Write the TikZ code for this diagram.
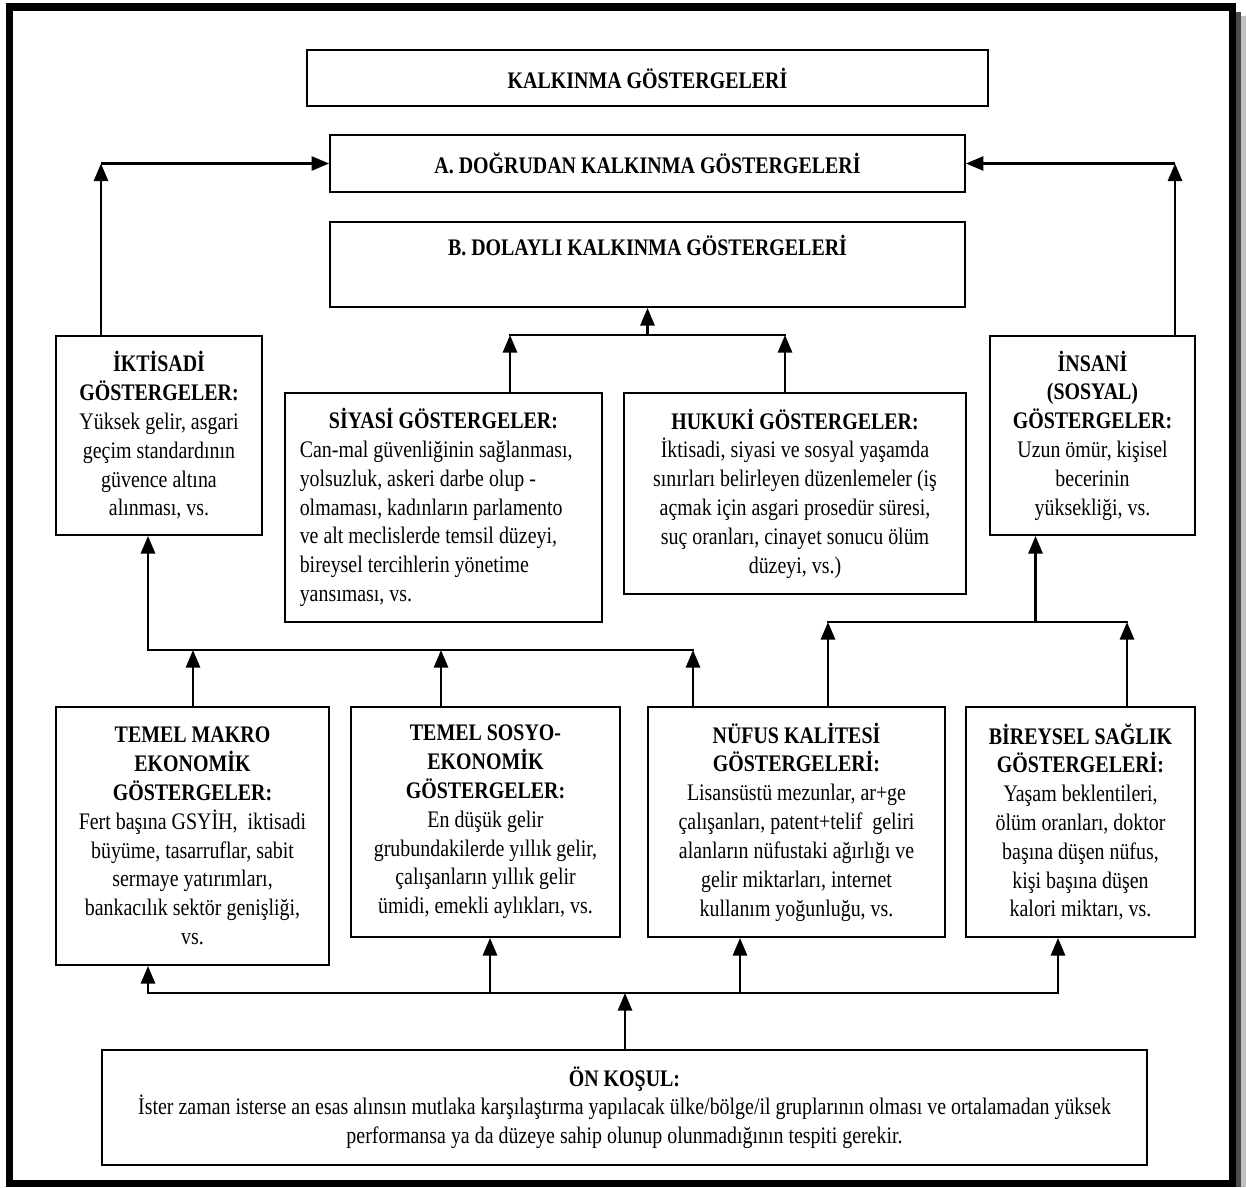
\documentclass[tikz,border=0pt]{standalone}
\usepackage{fontspec}
\setmainfont{Liberation Serif}[FakeStretch=0.84]
\usetikzlibrary{arrows.meta}

\begin{document}
\begin{tikzpicture}[x=0.02cm, y=-0.02cm,
        box/.style={draw, line width=1.1pt, align=center, inner sep=0pt,
            font=\fontsize{13.5}{16.4}\selectfont},
        arr/.style={line width=1.5pt, -{Triangle[length=10pt, width=8pt]}},
        wire/.style={line width=1.5pt, line cap=rect}]
                    \useasboundingbox (0,0) rectangle (1246,1187);

                    % frame with shadow
                    \fill[black!70] (1236,12) rectangle (1241,1187);
                    \fill[black!25] (1241,16) rectangle (1246,1187);
                    \draw[line width=4pt] (9.5,7) rectangle (1232,1183.5);

                    \node[box, line width=0.9pt, minimum width=13.62cm, minimum height=1.12cm] (kalkinma) at (647.5,78) {\textbf{KALKINMA GÖSTERGELERİ}};
                    \node[box, minimum width=12.7cm, minimum height=1.14cm] (dogrudan) at (647.5,163.5) {\textbf{A. DOĞRUDAN KALKINMA GÖSTERGELERİ}};
                    \node[box, minimum width=12.7cm, minimum height=1.7cm] (dolayli) at (647.5,264.5) {\textbf{B. DOLAYLI KALKINMA GÖSTERGELERİ}\\\strut};

                    \node[box, minimum width=4.12cm, minimum height=3.98cm] (iktisadi) at (159,435.5) {\textbf{İKTİSADİ}\\\textbf{GÖSTERGELER:}\\Yüksek gelir, asgari\\geçim standardının\\güvence altına\\alınması, vs.};
                    \node[box, align=flush left, text width=5.75cm, minimum width=6.34cm, minimum height=4.58cm] (siyasi) at (443.5,507.5) {\makebox[\linewidth]{\textbf{SİYASİ GÖSTERGELER:}}\\Can-mal güvenliğinin sağlanması,\\yolsuzluk, askeri darbe olup -\\olmaması, kadınların parlamento\\ve alt meclislerde temsil düzeyi,\\bireysel tercihlerin yönetime\\yansıması, vs.};
                    \node[box, minimum width=6.84cm, minimum height=4.02cm] (hukuki) at (795,493.5) {\textbf{HUKUKİ GÖSTERGELER:}\\İktisadi, siyasi ve sosyal yaşamda\\sınırları belirleyen düzenlemeler (iş\\açmak için asgari prosedür süresi,\\suç oranları, cinayet sonucu ölüm\\düzeyi, vs.)};
                    \node[box, minimum width=4.1cm, minimum height=3.98cm] (insani) at (1092.5,435.5) {\textbf{İNSANİ}\\\textbf{(SOSYAL)}\\\textbf{GÖSTERGELER:}\\Uzun ömür, kişisel\\becerinin\\yüksekliği, vs.};

                    \node[box, minimum width=5.46cm, minimum height=5.16cm] (makro) at (192.5,836) {\textbf{TEMEL MAKRO}\\\textbf{EKONOMİK}\\\textbf{GÖSTERGELER:}\\Fert başına GSYİH,\ \ iktisadi\\büyüme, tasarruflar, sabit\\sermaye yatırımları,\\bankacılık sektör genişliği,\\vs.};
                    \node[box, minimum width=5.38cm, minimum height=4.6cm] (sosyo) at (485.5,822) {\textbf{TEMEL SOSYO-}\\\textbf{EKONOMİK}\\\textbf{GÖSTERGELER:}\\En düşük gelir\\grubundakilerde yıllık gelir,\\çalışanların yıllık gelir\\ümidi, emekli aylıkları, vs.};
                    \node[box, minimum width=5.94cm, minimum height=4.6cm] (nufus) at (796.5,822) {\textbf{NÜFUS KALİTESİ}\\\textbf{GÖSTERGELERİ:}\\Lisansüstü mezunlar, ar+ge\\çalışanları, patent+telif\ \ geliri\\alanların nüfustaki ağırlığı ve\\gelir miktarları, internet\\kullanım yoğunluğu, vs.};
                    \node[box, minimum width=4.58cm, minimum height=4.6cm] (saglik) at (1080.5,822) {\textbf{BİREYSEL SAĞLIK}\\\textbf{GÖSTERGELERİ:}\\Yaşam beklentileri,\\ölüm oranları, doktor\\başına düşen nüfus,\\kişi başına düşen\\kalori miktarı, vs.};

                    \node[box, minimum width=20.92cm, minimum height=2.3cm] (onkosul) at (624.5,1107.5) {\textbf{ÖN KOŞUL:}\\İster zaman isterse an esas alınsın mutlaka karşılaştırma yapılacak ülke/bölge/il gruplarının olması ve ortalamadan yüksek\\performansa ya da düzeye sahip olunup olunmadığının tespiti gerekir.};

                    \coordinate (LU) at (101,163.5);
                    \coordinate (RU) at (1175,163.5);
                    \coordinate (BJ) at (647.5,335);
                    \coordinate (SJ) at (510,335);
                    \coordinate (HJ) at (785,335);
                    \coordinate (KL) at (148,650);
                    \coordinate (K1) at (193,650);
                    \coordinate (K2) at (441,650);
                    \coordinate (K3) at (693,650);
                    \coordinate (NL) at (828,622);
                    \coordinate (NJ) at (1035.5,622);
                    \coordinate (NR) at (1127,622);
                    \coordinate (OL) at (148,993);
                    \coordinate (O2) at (490,993);
                    \coordinate (O3) at (740,993);
                    \coordinate (OR) at (1058,993);
                    \coordinate (OJ) at (625,993);

                    % towards A
                    \draw[arr] (LU |- iktisadi.north) -- (LU);
                    \draw[arr] (LU) -- (dogrudan.west);
                    \draw[arr] (RU |- insani.north) -- (RU);
                    \draw[arr] (RU) -- (dogrudan.east);

                    % towards B
                    \draw[wire] (SJ) -- (HJ);
                    \draw[arr] (SJ |- siyasi.north) -- (SJ);
                    \draw[arr] (HJ |- hukuki.north) -- (HJ);
                    \draw[arr] (BJ) -- (dolayli.south);

                    % middle row
                    \draw[wire] (KL) -- (K3);
                    \draw[arr] (KL) -- (KL |- iktisadi.south);
                    \draw[arr] (K1 |- makro.north) -- (K1);
                    \draw[arr] (K2 |- sosyo.north) -- (K2);
                    \draw[arr] (K3 |- nufus.north) -- (K3);
                    \draw[wire] (NL) -- (NR);
                    \draw[arr] (NJ) -- (NJ |- insani.south);
                    \draw[arr] (NL |- nufus.north) -- (NL);
                    \draw[arr] (NR |- saglik.north) -- (NR);

                    % from the precondition
                    \draw[wire] (OL) -- (OR);
                    \draw[arr] (OL) -- (OL |- makro.south);
                    \draw[arr] (O2) -- (O2 |- sosyo.south);
                    \draw[arr] (O3) -- (O3 |- nufus.south);
                    \draw[arr] (OR) -- (OR |- saglik.south);
                    \draw[arr] (OJ |- onkosul.north) -- (OJ);

                \end{tikzpicture}
\end{document}
